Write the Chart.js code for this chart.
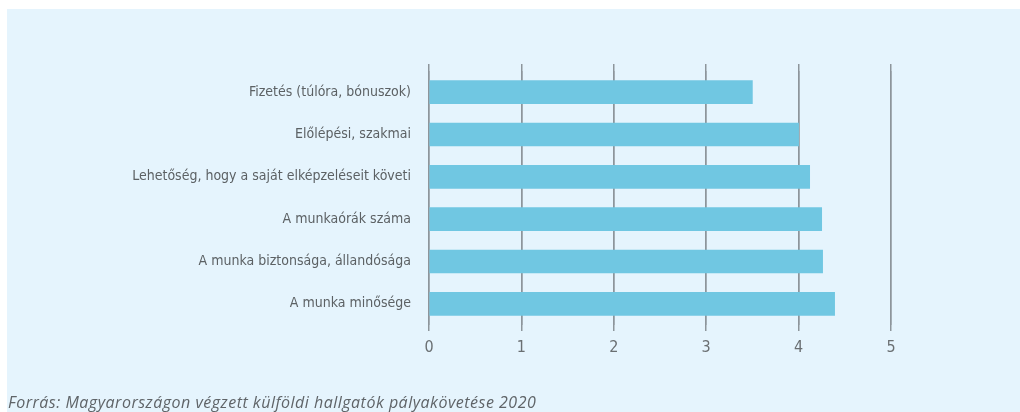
<!DOCTYPE html>
<html>
<head>
<meta charset="utf-8">
<script src="https://cdn.jsdelivr.net/npm/chart.js@4/dist/chart.umd.min.js"></script>
<style>
    html, body { margin: 0; padding: 0; background: #ffffff; }
    #wrap { position: relative; width: 1020px; height: 412px; overflow: hidden; }
    #panel { position: absolute; left: 7px; top: 9px; right: 0; bottom: 0; background: #e5f4fd; }
    #bar-chart { position: absolute; left: 0; top: 0; }
    #source {
        position: absolute; left: 8px; top: 391px;
        font-family: "Open Sans", sans-serif; font-style: italic; font-size: 16px;
        letter-spacing: 0.5px; color: #5f6468; white-space: nowrap;
    }
</style>
</head>
<body>
<div id="wrap">
    <div id="panel"></div>
    <canvas id="bar-chart" width="1020" height="412"></canvas>
    <div id="source">Forrás: Magyarországon végzett külföldi hallgatók pályakövetése 2020</div>
</div>
<script>
const categories = [
    'Fizetés (túlóra, bónuszok)',
    'Előlépési, szakmai',
    'Lehetőség, hogy a saját elképzeléseit követi',
    'A munkaórák száma',
    'A munka biztonsága, állandósága',
    'A munka minősége'
];
const values = [3.5, 4.0, 4.12, 4.25, 4.26, 4.39];
const xTicks = [0, 1, 2, 3, 4, 5];

const gridColor = '#8d959b';
const fontFamily = '"Liberation Sans Narrow", "DejaVu Sans Condensed", sans-serif';

const ctx = document.getElementById('bar-chart').getContext('2d');
new Chart(ctx, {
    type: 'bar',
    data: {
        labels: categories,
        datasets: [{
            data: values,
            backgroundColor: '#70c7e2',
            borderWidth: 0,
            barThickness: 23
        }]
    },
    options: {
        indexAxis: 'y',
        responsive: false,
        animation: false,
        devicePixelRatio: 1,
        layout: { padding: { top: 64, right: 129, bottom: 57, left: 0 } },
        plugins: {
            legend: { display: false },
            tooltip: { enabled: false }
        },
        scales: {
            x: {
                position: 'bottom',
                min: 0,
                max: 5,
                afterBuildTicks: (scale) => { scale.ticks = xTicks.map(v => ({ value: v })); },
                grid: { color: gridColor, lineWidth: 1.5, drawTicks: true, tickLength: 6 },
                border: { display: false },
                ticks: { color: '#6a6f72', font: { family: fontFamily, size: 16 }, padding: 7 },
                afterFit: (scale) => { scale.height = 30; }
            },
            xTop: {
                axis: 'x',
                position: 'top',
                min: 0,
                max: 5,
                afterBuildTicks: (scale) => { scale.ticks = xTicks.map(v => ({ value: v })); },
                grid: { color: gridColor, lineWidth: 1.5, drawTicks: true, tickLength: 7 },
                border: { display: false },
                ticks: { display: false }
            },
            y: {
                grid: { display: false },
                border: { display: false },
                ticks: { color: '#5c6164', font: { family: fontFamily, size: 14 }, padding: 10 },
                afterFit: (scale) => { scale.width = 429; }
            }
        }
    }
});
</script>
</body>
</html>
